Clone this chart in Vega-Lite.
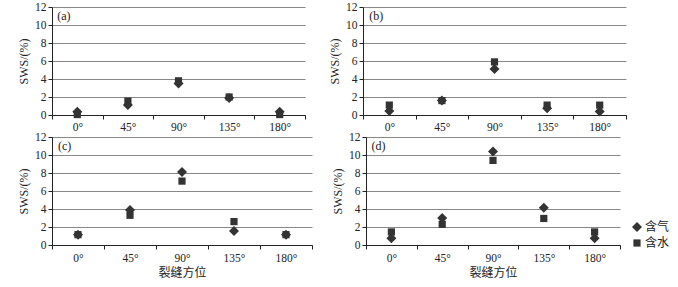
{
  "$schema": "https://vega.github.io/schema/vega-lite/v6.json",
  "padding": {"left": 17, "top": 1, "right": 0, "bottom": 0},
  "background": "white",
  "config": {"view": {"stroke": null}},
  "datasets": {
    "pts": [
      {"panel": "a", "angle": "0°", "type": "含气", "value": 0.35},
      {"panel": "a", "angle": "45°", "type": "含气", "value": 1.1},
      {"panel": "a", "angle": "90°", "type": "含气", "value": 3.5},
      {"panel": "a", "angle": "135°", "type": "含气", "value": 1.9},
      {"panel": "a", "angle": "180°", "type": "含气", "value": 0.35},
      {"panel": "a", "angle": "0°", "type": "含水", "value": 0.05},
      {"panel": "a", "angle": "45°", "type": "含水", "value": 1.55},
      {"panel": "a", "angle": "90°", "type": "含水", "value": 3.8},
      {"panel": "a", "angle": "135°", "type": "含水", "value": 2.0},
      {"panel": "a", "angle": "180°", "type": "含水", "value": 0.05},
      {"panel": "b", "angle": "0°", "type": "含气", "value": 0.45},
      {"panel": "b", "angle": "45°", "type": "含气", "value": 1.6},
      {"panel": "b", "angle": "90°", "type": "含气", "value": 5.1},
      {"panel": "b", "angle": "135°", "type": "含气", "value": 0.75},
      {"panel": "b", "angle": "180°", "type": "含气", "value": 0.4},
      {"panel": "b", "angle": "0°", "type": "含水", "value": 1.1},
      {"panel": "b", "angle": "45°", "type": "含水", "value": 1.6},
      {"panel": "b", "angle": "90°", "type": "含水", "value": 5.9},
      {"panel": "b", "angle": "135°", "type": "含水", "value": 1.1},
      {"panel": "b", "angle": "180°", "type": "含水", "value": 1.1},
      {"panel": "c", "angle": "0°", "type": "含气", "value": 1.15},
      {"panel": "c", "angle": "45°", "type": "含气", "value": 3.9},
      {"panel": "c", "angle": "90°", "type": "含气", "value": 8.1},
      {"panel": "c", "angle": "135°", "type": "含气", "value": 1.55},
      {"panel": "c", "angle": "180°", "type": "含气", "value": 1.15},
      {"panel": "c", "angle": "0°", "type": "含水", "value": 1.15},
      {"panel": "c", "angle": "45°", "type": "含水", "value": 3.3},
      {"panel": "c", "angle": "90°", "type": "含水", "value": 7.1},
      {"panel": "c", "angle": "135°", "type": "含水", "value": 2.6},
      {"panel": "c", "angle": "180°", "type": "含水", "value": 1.15},
      {"panel": "d", "angle": "0°", "type": "含气", "value": 0.75},
      {"panel": "d", "angle": "45°", "type": "含气", "value": 3.0},
      {"panel": "d", "angle": "90°", "type": "含气", "value": 10.4},
      {"panel": "d", "angle": "135°", "type": "含气", "value": 4.15},
      {"panel": "d", "angle": "180°", "type": "含气", "value": 0.75},
      {"panel": "d", "angle": "0°", "type": "含水", "value": 1.45},
      {"panel": "d", "angle": "45°", "type": "含水", "value": 2.3},
      {"panel": "d", "angle": "90°", "type": "含水", "value": 9.4},
      {"panel": "d", "angle": "135°", "type": "含水", "value": 2.95},
      {"panel": "d", "angle": "180°", "type": "含水", "value": 1.45}
    ],
    "labels": [
      {"panel": "a", "label": "(a)", "angle": "0°", "value": 11},
      {"panel": "b", "label": "(b)", "angle": "0°", "value": 11},
      {"panel": "c", "label": "(c)", "angle": "0°", "value": 11},
      {"panel": "d", "label": "(d)", "angle": "0°", "value": 11}
    ]
  },
  "resolve": {"legend": {"shape": "independent"}},
  "spacing": -2,
  "vconcat": [
    {
      "spacing": 22,
      "resolve": {"legend": {"shape": "independent"}},
      "hconcat": [
        {
          "width": 253, "height": 108,
          "encoding": {
            "x": {"field": "angle", "type": "nominal", "sort": ["0°", "45°", "90°", "135°", "180°"], "scale": {"paddingInner": 0, "paddingOuter": 0}, "axis": {"title": null, "labelAngle": 0, "tickBand": "extent", "grid": false, "tickSize": 4, "labelPadding": 2, "labelFont": "Liberation Serif", "labelFontSize": 11.5, "labelColor": "#222", "domainColor": "#222", "tickColor": "#222"}},
            "y": {"field": "value", "type": "quantitative", "scale": {"domain": [0, 12], "nice": false}, "axis": {"title": "SWS/(%)", "values": [0, 2, 4, 6, 8, 10, 12], "labelOverlap": false, "tickSize": 4, "titlePadding": 4, "labelFont": "Liberation Serif", "labelFontSize": 11.5, "labelColor": "#222", "titleFont": "Liberation Serif", "titleFontSize": 12, "titleFontWeight": "normal", "titleColor": "#222", "domainColor": "#222", "tickColor": "#222", "gridColor": "#888888"}}
          },
          "layer": [
            {
              "data": {"name": "pts"},
              "transform": [{"filter": "datum.panel == 'a'"}],
              "mark": {"type": "point", "filled": true, "opacity": 1, "color": "#333333", "size": 100},
              "encoding": {
                "shape": {"field": "type", "type": "nominal", "scale": {"domain": ["含气", "含水"], "range": ["M0,-1L1,0L0,1L-1,0Z", "M-0.72,-0.72H0.72V0.72H-0.72Z"]}, "legend": null}
              }
            },
            {
              "data": {"name": "labels"},
              "transform": [{"filter": "datum.panel == 'a'"}],
              "mark": {"type": "text", "align": "left", "baseline": "middle", "dx": -20, "font": "Liberation Serif", "fontSize": 12, "color": "#222"},
              "encoding": {"text": {"field": "label"}}
            }
          ]
        },
        {
          "width": 263, "height": 108,
          "encoding": {
            "x": {"field": "angle", "type": "nominal", "sort": ["0°", "45°", "90°", "135°", "180°"], "scale": {"paddingInner": 0, "paddingOuter": 0}, "axis": {"title": null, "labelAngle": 0, "tickBand": "extent", "grid": false, "tickSize": 4, "labelPadding": 2, "labelFont": "Liberation Serif", "labelFontSize": 11.5, "labelColor": "#222", "domainColor": "#222", "tickColor": "#222"}},
            "y": {"field": "value", "type": "quantitative", "scale": {"domain": [0, 12], "nice": false}, "axis": {"title": "SWS/(%)", "values": [0, 2, 4, 6, 8, 10, 12], "labelOverlap": false, "tickSize": 4, "titlePadding": 4, "labelFont": "Liberation Serif", "labelFontSize": 11.5, "labelColor": "#222", "titleFont": "Liberation Serif", "titleFontSize": 12, "titleFontWeight": "normal", "titleColor": "#222", "domainColor": "#222", "tickColor": "#222", "gridColor": "#888888"}}
          },
          "layer": [
            {
              "data": {"name": "pts"},
              "transform": [{"filter": "datum.panel == 'b'"}],
              "mark": {"type": "point", "filled": true, "opacity": 1, "color": "#333333", "size": 100},
              "encoding": {
                "shape": {"field": "type", "type": "nominal", "scale": {"domain": ["含气", "含水"], "range": ["M0,-1L1,0L0,1L-1,0Z", "M-0.72,-0.72H0.72V0.72H-0.72Z"]}, "legend": null}
              }
            },
            {
              "data": {"name": "labels"},
              "transform": [{"filter": "datum.panel == 'b'"}],
              "mark": {"type": "text", "align": "left", "baseline": "middle", "dx": -20, "font": "Liberation Serif", "fontSize": 12, "color": "#222"},
              "encoding": {"text": {"field": "label"}}
            }
          ]
        }
      ]
    },
    {
      "spacing": 18,
      "resolve": {"legend": {"shape": "independent"}},
      "hconcat": [
        {
          "width": 260, "height": 108,
          "encoding": {
            "x": {"field": "angle", "type": "nominal", "sort": ["0°", "45°", "90°", "135°", "180°"], "scale": {"paddingInner": 0, "paddingOuter": 0}, "axis": {"title": "裂缝方位", "titlePadding": 4, "titleFont": "Noto Sans CJK SC", "titleFontSize": 12, "titleFontWeight": "normal", "titleColor": "#222", "labelAngle": 0, "tickBand": "extent", "grid": false, "tickSize": 4, "labelPadding": 3, "labelFont": "Liberation Serif", "labelFontSize": 11.5, "labelColor": "#222", "domainColor": "#222", "tickColor": "#222"}},
            "y": {"field": "value", "type": "quantitative", "scale": {"domain": [0, 12], "nice": false}, "axis": {"title": "SWS/(%)", "values": [0, 2, 4, 6, 8, 10, 12], "labelOverlap": false, "tickSize": 4, "titlePadding": 4, "labelFont": "Liberation Serif", "labelFontSize": 11.5, "labelColor": "#222", "titleFont": "Liberation Serif", "titleFontSize": 12, "titleFontWeight": "normal", "titleColor": "#222", "domainColor": "#222", "tickColor": "#222", "gridColor": "#888888"}}
          },
          "layer": [
            {
              "data": {"name": "pts"},
              "transform": [{"filter": "datum.panel == 'c'"}],
              "mark": {"type": "point", "filled": true, "opacity": 1, "color": "#333333", "size": 100},
              "encoding": {
                "shape": {"field": "type", "type": "nominal", "scale": {"domain": ["含气", "含水"], "range": ["M0,-1L1,0L0,1L-1,0Z", "M-0.72,-0.72H0.72V0.72H-0.72Z"]}, "legend": null}
              }
            },
            {
              "data": {"name": "labels"},
              "transform": [{"filter": "datum.panel == 'c'"}],
              "mark": {"type": "text", "align": "left", "baseline": "middle", "dx": -20, "font": "Liberation Serif", "fontSize": 12, "color": "#222"},
              "encoding": {"text": {"field": "label"}}
            }
          ]
        },
        {
          "width": 254, "height": 108,
          "encoding": {
            "x": {"field": "angle", "type": "nominal", "sort": ["0°", "45°", "90°", "135°", "180°"], "scale": {"paddingInner": 0, "paddingOuter": 0}, "axis": {"title": "裂缝方位", "titlePadding": 4, "titleFont": "Noto Sans CJK SC", "titleFontSize": 12, "titleFontWeight": "normal", "titleColor": "#222", "labelAngle": 0, "tickBand": "extent", "grid": false, "tickSize": 4, "labelPadding": 3, "labelFont": "Liberation Serif", "labelFontSize": 11.5, "labelColor": "#222", "domainColor": "#222", "tickColor": "#222"}},
            "y": {"field": "value", "type": "quantitative", "scale": {"domain": [0, 12], "nice": false}, "axis": {"title": "SWS/(%)", "values": [0, 2, 4, 6, 8, 10, 12], "labelOverlap": false, "tickSize": 4, "titlePadding": 4, "labelFont": "Liberation Serif", "labelFontSize": 11.5, "labelColor": "#222", "titleFont": "Liberation Serif", "titleFontSize": 12, "titleFontWeight": "normal", "titleColor": "#222", "domainColor": "#222", "tickColor": "#222", "gridColor": "#888888"}}
          },
          "layer": [
            {
              "data": {"name": "pts"},
              "transform": [{"filter": "datum.panel == 'd'"}],
              "mark": {"type": "point", "filled": true, "opacity": 1, "color": "#333333", "size": 100},
              "encoding": {
                "shape": {"field": "type", "type": "nominal", "scale": {"domain": ["含气", "含水"], "range": ["M0,-1L1,0L0,1L-1,0Z", "M-0.72,-0.72H0.72V0.72H-0.72Z"]}, "legend": {"title": null, "orient": "none", "legendX": 265, "legendY": 84, "labelFont": "Noto Sans CJK SC", "labelFontSize": 12, "labelColor": "#222", "symbolFillColor": "#333333", "symbolStrokeColor": "#333333", "symbolOpacity": 1, "symbolSize": 100, "rowPadding": 1, "labelOffset": 2}}
              }
            },
            {
              "data": {"name": "labels"},
              "transform": [{"filter": "datum.panel == 'd'"}],
              "mark": {"type": "text", "align": "left", "baseline": "middle", "dx": -20, "font": "Liberation Serif", "fontSize": 12, "color": "#222"},
              "encoding": {"text": {"field": "label"}}
            }
          ]
        }
      ]
    }
  ]
}
